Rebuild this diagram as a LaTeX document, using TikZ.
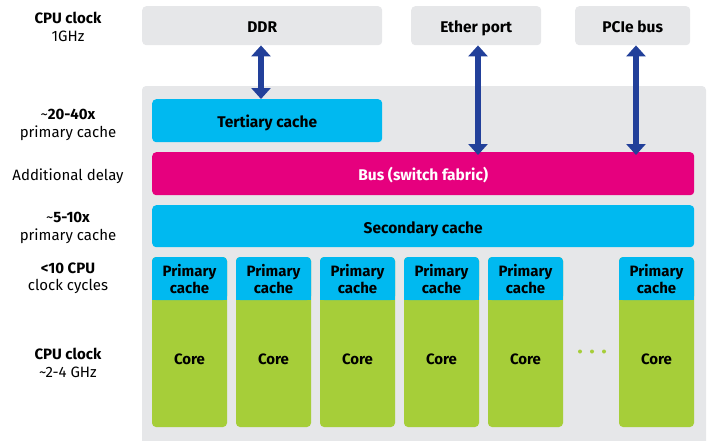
\documentclass[tikz,border=0pt]{standalone}
\usepackage{fontspec}
\setmainfont{Fira Sans}
\usetikzlibrary{arrows.meta}

\definecolor{panelgrey}{HTML}{E6E7E9}
\definecolor{cachecyan}{HTML}{00B9F0}
\definecolor{busmagenta}{HTML}{E6007E}
\definecolor{coregreen}{HTML}{A6CE39}
\definecolor{linkblue}{HTML}{22409A}

\tikzset{
  panel/.style={fill=panelgrey, rounded corners=4pt},
  blockbox/.style={rounded corners=4pt, anchor=north west, inner sep=0pt,
                   text height=14.5pt, text depth=0pt,
                   font=\bfseries\fontsize{15.5}{18}\selectfont},
  celltext/.style={align=center, inner sep=0pt, font=\bfseries\fontsize{15}{16.5}\selectfont},
  sidelabel/.style={align=center, inner sep=0pt, font=\fontsize{15}{17.5}\selectfont},
  link/.style={draw=linkblue, line width=6pt,
               {Triangle[width=19pt,length=11pt]}-{Triangle[width=19pt,length=11pt]}},
}

\begin{document}
\begin{tikzpicture}[x=1pt,y=-1pt]
\useasboundingbox (0,0) rectangle (707,440);

% external devices
\node[blockbox, fill=panelgrey, minimum width=240pt, minimum height=39pt] (ddr) at (142,6) {DDR};
\node[blockbox, fill=panelgrey, minimum width=130pt, minimum height=39pt] (eth) at (411,6) {Ether port};
\node[blockbox, fill=panelgrey, minimum width=115pt, minimum height=39pt] (pcie) at (575,6) {PCIe bus};

% chip panel
\fill[panel] (142,86) rectangle (706,446);

% shared caches and bus
\node[blockbox, fill=cachecyan, minimum width=230pt, minimum height=43pt] (tert) at (152,99) {Tertiary cache};
\node[blockbox, fill=busmagenta, text=white, minimum width=542pt, minimum height=43pt] (bus) at (152,152) {Bus (switch fabric)};
\node[blockbox, fill=cachecyan, minimum width=542pt, minimum height=42pt] (sec) at (152,205) {Secondary cache};

% cores with their primary caches
\foreach \i/\L in {1/152,2/236,3/320,4/404,5/488,6/619} {
  \fill[coregreen, rounded corners=4pt] (\L,257) rectangle ++(75,170);
  \fill[cachecyan, rounded corners=4pt] (\L,257) rectangle ++(75,43);
  \fill[cachecyan] (\L,290) rectangle ++(75,10);
  \node[celltext] (pc\i) at (\L+37.5,279) {Primary\\cache};
  \node[celltext] (core\i) at (\L+37.5,359.5) {Core};
}

% ellipsis between the cores
\foreach \k/\x in {1/580,2/592,3/604}
  \fill[coregreen] (\x,351.5) circle (2pt) coordinate (dot\k);

% links to the external devices
\draw[link] (ddr.south -| 261,0) -- (tert.north -| 261,0);
\draw[link] (eth.south -| 478,0) -- ([yshift=-3pt]bus.north -| 478,0);
\draw[link] (pcie.south -| 636,0) -- ([yshift=-3pt]bus.north -| 636,0);

% latency annotations
\node[sidelabel] (l1) at (68,27) {\textbf{CPU clock}\\1GHz};
\node[sidelabel] (l2) at (68,125) {\textasciitilde\textbf{20-40x}\\primary cache};
\node[sidelabel] (l3) at (68,176.5) {Additional delay};
\node[sidelabel] (l4) at (68,228) {\textasciitilde\textbf{5-10x}\\primary cache};
\node[sidelabel] (l5) at (68,278.5) {\textbf{<10 CPU}\\clock cycles};
\node[sidelabel] (l6) at (68,363) {\textbf{CPU clock}\\\textasciitilde2-4 GHz};
\end{tikzpicture}
\end{document}
